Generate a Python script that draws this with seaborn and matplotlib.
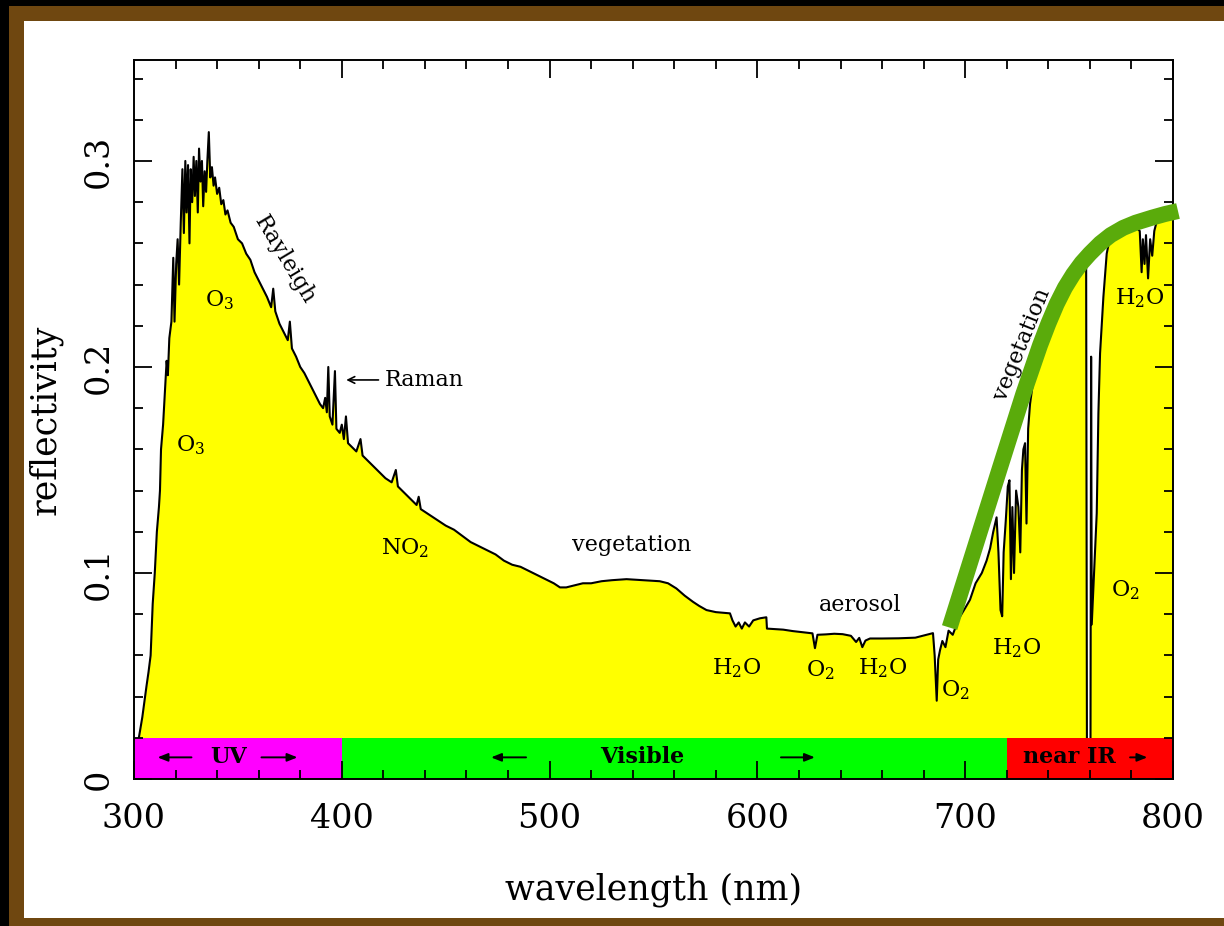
import matplotlib
matplotlib.use("Agg")
import matplotlib.pyplot as plt
from matplotlib.patches import Rectangle
import seaborn as sns
import pandas as pd

# ---------------- data ----------------
wavelength = [
    300, 302, 304, 306, 307, 308, 309, 310, 311, 312, 312.5, 313, 314, 315, 315.7, 316.3,
    317, 318, 318.9, 319.5, 320.3, 321, 321.7, 322.5, 323.3, 324, 324.7, 325.3, 326,
    326.7, 327.3, 328, 328.7, 329.3, 330, 330.7, 331.3, 332, 332.7, 333.3, 334, 334.7,
    335.3, 336, 336.7, 337.5, 338.3, 339, 340, 341, 342, 343, 344, 345, 346.5, 348,
    350, 352, 354, 356, 358, 360, 362, 364, 366, 367, 368, 370, 372, 374, 375, 376,
    378, 380, 382, 384, 386, 388, 389.5, 391, 392, 392.8, 393.5, 394.2, 395.5, 396.7,
    397.4, 399, 400, 401, 402, 403, 405, 407, 409, 410, 412, 415, 418, 421, 424, 426,
    427, 430, 433, 436, 437, 438, 441, 444, 447, 450, 454, 458, 462, 466, 470, 474,
    478, 482, 486, 490, 494, 498, 502, 505, 508, 512, 516, 520, 525, 530, 537, 545,
    553, 557, 561, 565, 569, 572, 575.5, 580, 586.8, 588, 589.5, 591, 592.5, 594, 596,
    598, 601.2, 604.3, 604.6, 608, 612.4, 617, 622, 626.5, 627.7, 628.9, 633, 637, 641,
    645, 647.5, 649, 650.5, 652, 654.2, 660, 668, 676, 684.5, 685.3, 686.3, 687, 687.9,
    689, 690.5, 692, 694, 697, 700, 702.3, 705, 708, 710.3, 712, 713.5, 715.1, 716, 717,
    717.8, 718.5, 719.5, 720.5, 721.3, 722.0, 722.7, 723.5, 724.5, 725.6, 726.5, 727.3,
    728, 728.8, 729.5, 730.3, 731.2, 732, 733, 734.4, 736, 737.5, 739.2, 742, 745, 748,
    751, 754, 757, 758.2, 758.6, 759.5, 760.3, 760.6, 760.9, 762, 763.3, 764.1, 764.9,
    766.5, 768.1, 769.7, 772, 775, 778, 781, 784, 784.9, 785.5, 786.3, 787, 788, 789,
    790, 791, 792, 795, 800,
]
reflectivity = [
    0.004, 0.018, 0.030, 0.045, 0.052, 0.060, 0.085, 0.100, 0.120, 0.132, 0.140, 0.160,
    0.172, 0.190, 0.203, 0.196, 0.214, 0.222, 0.253, 0.222, 0.250, 0.262, 0.240, 0.270,
    0.296, 0.265, 0.300, 0.275, 0.298, 0.260, 0.296, 0.280, 0.302, 0.283, 0.300, 0.275,
    0.306, 0.290, 0.300, 0.278, 0.295, 0.285, 0.300, 0.314, 0.292, 0.297, 0.288, 0.292,
    0.284, 0.287, 0.279, 0.281, 0.274, 0.276, 0.270, 0.268, 0.262, 0.260, 0.255, 0.252,
    0.246, 0.242, 0.238, 0.234, 0.229, 0.238, 0.227, 0.221, 0.217, 0.213, 0.222, 0.209,
    0.205, 0.200, 0.197, 0.193, 0.189, 0.185, 0.182, 0.180, 0.185, 0.178, 0.200, 0.176,
    0.172, 0.198, 0.170, 0.168, 0.172, 0.165, 0.176, 0.163, 0.161, 0.159, 0.165, 0.157,
    0.155, 0.152, 0.149, 0.146, 0.144, 0.150, 0.142, 0.139, 0.136, 0.133, 0.137, 0.131,
    0.129, 0.127, 0.125, 0.123, 0.121, 0.118, 0.115, 0.113, 0.111, 0.109, 0.106, 0.104,
    0.103, 0.101, 0.099, 0.097, 0.095, 0.093, 0.093, 0.094, 0.095, 0.095, 0.096, 0.0965,
    0.097, 0.0965, 0.096, 0.095, 0.0925, 0.089, 0.086, 0.084, 0.082, 0.081, 0.0804, 0.077,
    0.074, 0.076, 0.073, 0.076, 0.074, 0.077, 0.078, 0.0785, 0.073, 0.0728, 0.0725,
    0.0718, 0.0712, 0.0707, 0.0635, 0.0700, 0.0702, 0.0705, 0.0703, 0.0695, 0.0665,
    0.0685, 0.0640, 0.0672, 0.0682, 0.0682, 0.0683, 0.0686, 0.0708, 0.060, 0.038, 0.058,
    0.0626, 0.067, 0.064, 0.072, 0.070, 0.078, 0.083, 0.087, 0.095, 0.100, 0.106, 0.112,
    0.120, 0.127, 0.110, 0.082, 0.079, 0.110, 0.125, 0.142, 0.145, 0.097, 0.132, 0.100,
    0.140, 0.132, 0.110, 0.150, 0.160, 0.163, 0.124, 0.170, 0.182, 0.188, 0.195, 0.202,
    0.208, 0.213, 0.218, 0.226, 0.234, 0.241, 0.246, 0.250, 0.254, 0.255, 0.002, 0.002,
    0.020, 0.205, 0.075, 0.100, 0.129, 0.1775, 0.2066, 0.234, 0.255, 0.263, 0.265, 0.267,
    0.268, 0.269, 0.266, 0.246, 0.262, 0.250, 0.264, 0.243, 0.262, 0.254, 0.266, 0.270,
    0.272, 0.274,
]

# hand-drawn "vegetation" reflectance sketch (green)
veg_wavelength = [692.5, 705, 716.7, 728, 736, 740, 744, 748, 752, 756, 760, 765,
                  770, 776, 782, 790, 796, 802.4]
veg_reflectivity = [0.0735, 0.1135, 0.151, 0.187, 0.2105, 0.2210, 0.2305, 0.2385,
                    0.2450, 0.2505, 0.2550, 0.2600, 0.2640, 0.2675, 0.2700, 0.2725,
                    0.2742, 0.2757]

band_names = ["UV", "Visible", "near IR"]
band_start = [300, 400, 720]
band_end = [400, 720, 800]
band_colors = ["#ff00ff", "#00ff00", "#ff0000"]
band_top = 0.02

x_ticks = [300, 400, 500, 600, 700, 800]
y_ticks = [0, 0.1, 0.2, 0.3]
y_tick_labels = ["0", "0.1", "0.2", "0.3"]

# ---------------- style ----------------
sns.set_theme(style="ticks")
plt.rcParams["font.family"] = ["DejaVu Serif"]
plt.rcParams["mathtext.fontset"] = "dejavuserif"

W, H = 1224, 926
fig = plt.figure(figsize=(W / 100, H / 100), dpi=100)
fig.patch.set_facecolor("white")

# picture frame
brown = "#6f4710"
def frame_rect(x0, y0, x1, y1, color):
    fig.add_artist(Rectangle((x0 / W, 1 - y1 / H), (x1 - x0) / W, (y1 - y0) / H,
                             transform=fig.transFigure, color=color, lw=0, zorder=0))
frame_rect(0, 0, W, 6, "black")
frame_rect(0, 0, 9, H, "black")
frame_rect(9, 6, W, 21, brown)
frame_rect(9, 6, 24, H, brown)
frame_rect(9, 918, W, H, brown)

ax = fig.add_axes([134 / W, 1 - 779 / H, (1173 - 134) / W, (779 - 60) / H])
ax.set_facecolor("white")

df = pd.DataFrame({"wavelength": wavelength, "reflectivity": reflectivity})
ax.fill_between(df["wavelength"], 0, df["reflectivity"], color="#ffff00", lw=0, zorder=1)
sns.lineplot(data=df, x="wavelength", y="reflectivity", sort=False, estimator=None,
             color="black", linewidth=1.5, ax=ax, zorder=1.5)

# spectral bands
for s, e, c in zip(band_start, band_end, band_colors):
    ax.bar(s, band_top, width=e - s, bottom=0, align="edge", color=c, lw=0, zorder=2)

ax.set_xlim(300, 800)
ax.set_ylim(0, 0.349)
ax.set_axisbelow(False)

ax.set_xticks(x_ticks)
ax.set_xticks(range(300, 801, 20), minor=True)
ax.set_yticks(y_ticks)
ax.set_yticklabels(y_tick_labels)
ax.set_yticks([v / 100 for v in range(0, 35, 2)], minor=True)
ax.tick_params(which="both", direction="in", top=True, right=True, color="black",
               width=1.3)
ax.tick_params(which="major", length=13)
ax.tick_params(which="minor", length=6.5)
ax.tick_params(axis="x", which="major", labelsize=24, pad=17, labelcolor="black")
ax.tick_params(axis="y", which="major", labelsize=24, pad=14, labelcolor="black")
for lab in ax.get_yticklabels():
    lab.set_rotation(90)
    lab.set_va("center")
for sp in ax.spines.values():
    sp.set_color("black")
    sp.set_linewidth(1.4)
    sp.set_zorder(2.6)

ax.set_xlabel("wavelength (nm)", fontsize=25, color="black", labelpad=27)
ax.set_ylabel("reflectivity", fontsize=25, color="black", labelpad=14)

# annotations
fs = 16
kw = dict(ha="center", va="center", fontsize=fs, color="black", zorder=3)
ax.text(372.7, 0.252, "Rayleigh", rotation=-59, **kw)
ax.text(341.4, 0.2325, r"O$_3$", **kw)
ax.text(327.0, 0.162, r"O$_3$", **kw)
ax.annotate("", xy=(400.8, 0.1937), xytext=(419.0, 0.1937),
            arrowprops=dict(arrowstyle="->", lw=1.2, color="black"), zorder=3)
ax.text(420.5, 0.1937, "Raman", ha="left", va="center", fontsize=fs, color="black", zorder=3)
ax.text(430.4, 0.112, r"NO$_2$", **kw)
ax.text(539.7, 0.1136, "vegetation", **kw)
ax.text(649.4, 0.0845, "aerosol", **kw)
ax.text(590.2, 0.0539, r"H$_2$O", **kw)
ax.text(630.1, 0.0530, r"O$_2$", **kw)
ax.text(660.4, 0.0539, r"H$_2$O", **kw)
ax.text(695.1, 0.0430, r"O$_2$", **kw)
ax.text(724.9, 0.0636, r"H$_2$O", **kw)
ax.text(776.9, 0.0917, r"O$_2$", **kw)
ax.text(784.1, 0.2335, r"H$_2$O", **kw)
ax.text(727.3, 0.2107, "vegetation", rotation=68, **kw)

# band labels with arrows
bkw = dict(ha="center", va="center", fontsize=16, fontweight="bold", color="black", zorder=3)
ax.text(345.5, 0.0105, band_names[0], **bkw)
ax.text(544.5, 0.0105, band_names[1], **bkw)
ax.text(750.0, 0.0105, band_names[2], **bkw)
akw = dict(arrowstyle="-|>,head_length=0.5,head_width=0.2", lw=1.4, color="black")
for tip, tail in [(310, 329), (380, 360), (470.5, 490), (629, 610), (789, 778)]:
    ax.annotate("", xy=(tip, 0.0105), xytext=(tail, 0.0105), arrowprops=akw, zorder=3)

# green vegetation curve
ax.plot(veg_wavelength, veg_reflectivity, color="#5aab0b", lw=11.5, solid_capstyle="butt",
        solid_joinstyle="round", zorder=4, clip_on=False)

fig.savefig("out.png", dpi=100, facecolor=fig.get_facecolor())
